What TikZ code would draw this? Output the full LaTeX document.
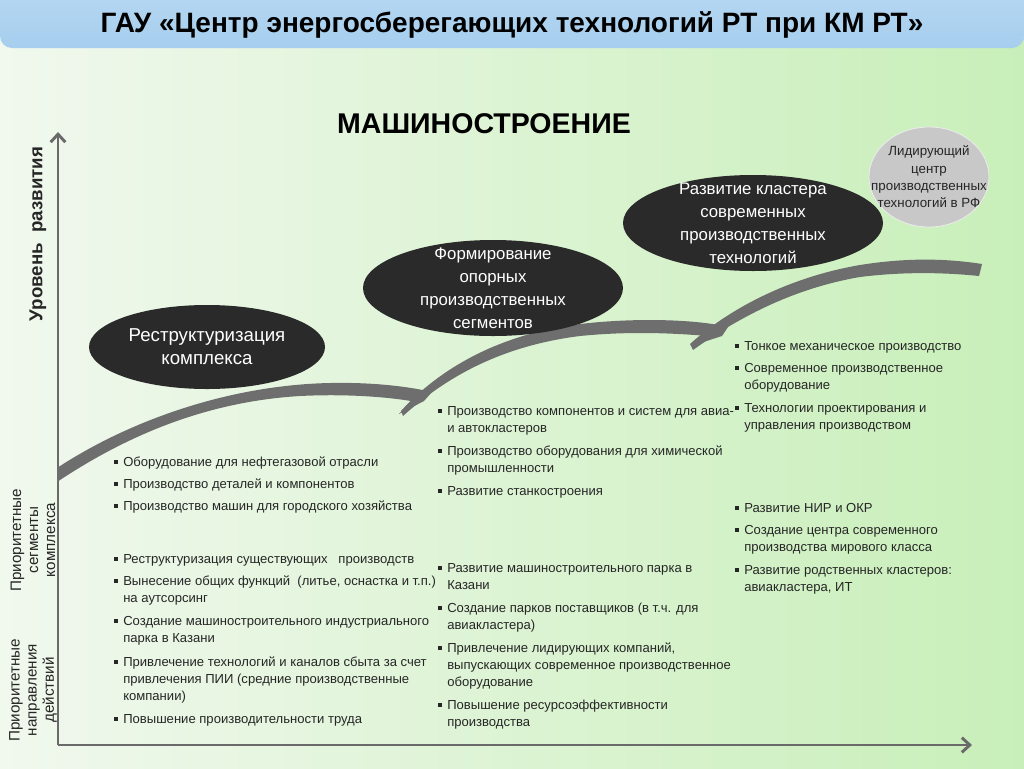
\documentclass[tikz,border=0pt]{standalone}
\usepackage{fontspec}
\setmainfont{Liberation Sans}
\usetikzlibrary{arrows.meta,shapes.geometric}
\definecolor{bgL}{HTML}{F1F8EE}
\definecolor{bgR}{HTML}{C8EFB9}
\definecolor{hdr}{HTML}{A6CEEE}
\definecolor{hdrT}{HTML}{B6D8F2}
\definecolor{ellc}{HTML}{2A2A2A}
\definecolor{swc}{HTML}{6E6E6E}
\definecolor{axc}{HTML}{6A6A6A}
\definecolor{txt}{HTML}{262626}
\definecolor{circc}{HTML}{C8C8C8}
\newcommand\bitem[4]{%
  \node[bul] (#1b) at ({#2-7},{#3-4}) {};
  \node[itm] (#1) at (#2,{#3-12.1}) {\strut #4};
}
\begin{document}
\begin{tikzpicture}[x=0.75pt,y=-0.75pt,
  itm/.style={anchor=north west,align=left,inner sep=0pt,text=txt,
    font=\fontsize{9.8}{13}\selectfont},
  bul/.style={rectangle,fill=txt,minimum size=2.8pt,inner sep=0pt},
  ell/.style={ellipse,fill=ellc,draw=none,inner sep=0pt},
  elltext/.style={align=center,text=white,font=\fontsize{12.6}{17.2}\selectfont,inner sep=0pt},
  swoosh/.style={fill=swc,draw=none},
  axis/.style={draw=axc,line width=2.2pt},
  sidelab/.style={rotate=90,align=center,text=txt,inner sep=0pt,
    font=\fontsize{11.4}{12.8}\selectfont}]
\useasboundingbox (0,0) rectangle (1024,768);
\shade[left color=bgL,right color=bgR] (0,0) rectangle (1024,768);
% header
\shade[top color=hdrT,bottom color=hdr,rounded corners=9pt] (0,-12) rectangle (1024,48);
\node[font=\bfseries\fontsize{21}{24}\selectfont,inner sep=0pt] (title) at (512,25)
  {ГАУ «Центр энергосберегающих технологий РТ при КМ РТ»};
\node[font=\bfseries\fontsize{21.4}{24}\selectfont,inner sep=0pt,text=black] (sub) at (484,124) {МАШИНОСТРОЕНИЕ};
% axes
\coordinate (O) at (58,745);
\coordinate (Ytop) at (58,132);
\coordinate (Xend) at (972,745);
\draw[axis,-{Straight Barb[length=6pt,width=11pt]}] (O) -- (Ytop);
\draw[axis,-{Straight Barb[length=6pt,width=11pt]}] (O) -- (Xend);
% side labels
\node[sidelab,font=\bfseries\fontsize{14}{16}\selectfont] (lev) at (38,234) {Уровень\ \ развития};
\node[sidelab] (seg) at (33,540) {Приоритетные\\сегменты\\комплекса};
\node[sidelab] (dir) at (33,690) {Приоритетные\\направления\\действий};
% swooshes
\fill[swoosh] (57,468) .. controls (130,420) and (230,385) .. (330,383)
  .. controls (380,382) and (415,388) .. (432,392) -- (424,401) -- (399,414) -- (411,401)
  .. controls (380,396) and (340,394) .. (300,396)
  .. controls (200,402) and (120,440) .. (57,482) -- cycle;
\fill[swoosh] (401,411) .. controls (440,368) and (500,334) .. (580,324)
  .. controls (640,317) and (700,320) .. (728,327) -- (722,336) -- (694,345) -- (708,336)
  .. controls (660,332) and (620,332) .. (580,336)
  .. controls (500,346) and (445,378) .. (403,416) -- cycle;
\fill[swoosh] (690,344) .. controls (730,308) and (790,277) .. (860,265)
  .. controls (910,257) and (950,259) .. (982,264) -- (979,276)
  .. controls (940,272) and (900,272) .. (860,277)
  .. controls (790,289) and (735,320) .. (693,350) -- cycle;
% ellipses
\node[ell,minimum width=177pt,minimum height=63pt] (e1) at (207,347) {};
\node[elltext,font=\fontsize{14}{17.2}\selectfont] (t1) at (e1) {Реструктуризация\\комплекса};
\node[ell,minimum width=195pt,minimum height=72pt] (e2) at (493,288) {};
\node[elltext] (t2) at (e2) {Формирование\\опорных\\производственных\\сегментов};
\node[ell,minimum width=195pt,minimum height=72pt] (e3) at (753,223) {};
\node[elltext] (t3) at (e3) {Развитие кластера\\современных\\производственных\\технологий};
\node[ellipse,fill=circc,draw=white!85!gray,line width=0.6pt,minimum width=90pt,minimum height=75pt,inner sep=0pt] (e4) at (929,177) {};
\node[align=center,inner sep=0pt,text=txt,font=\fontsize{10}{13}\selectfont] (t4) at (e4) {Лидирующий\\центр\\производственных\\технологий в РФ};
% column 1
\bitem{a1}{123}{466}{Оборудование для нефтегазовой отрасли}
\bitem{a2}{123}{488}{Производство деталей и компонентов}
\bitem{a3}{123}{510}{Производство машин для городского хозяйства}
\bitem{a4}{123}{563}{Реструктуризация существующих \ \ производств}
\bitem{a5}{123}{585}{Вынесение общих функций \ (литье, оснастка и т.п.)\\на аутсорсинг}
\bitem{a6}{123}{625}{Создание машиностроительного индустриального\\парка в Казани}
\bitem{a7}{123}{666}{Привлечение технологий и каналов сбыта за счет\\привлечения ПИИ (средние производственные\\компании)}
\bitem{a8}{123}{723}{Повышение производительности труда}
% column 2
\bitem{b1}{447}{415}{Производство компонентов и систем для авиа-\\и автокластеров}
\bitem{b2}{447}{455}{Производство оборудования для химической\\промышленности}
\bitem{b3}{447}{495}{Развитие станкостроения}
\bitem{b4}{447}{572}{Развитие машиностроительного парка в\\Казани}
\bitem{b5}{447}{612}{Создание парков поставщиков (в т.ч. для\\авиакластера)}
\bitem{b6}{447}{652}{Привлечение лидирующих компаний,\\выпускающих современное производственное\\оборудование}
\bitem{b7}{447}{709}{Повышение ресурсоэффективности\\производства}
% column 3
\bitem{c1}{744}{350}{Тонкое механическое производство}
\bitem{c2}{744}{372}{Современное производственное\\оборудование}
\bitem{c3}{744}{412}{Технологии проектирования и\\управления производством}
\bitem{c4}{744}{512}{Развитие НИР и ОКР}
\bitem{c5}{744}{534}{Создание центра современного\\производства мирового класса}
\bitem{c6}{744}{574}{Развитие родственных кластеров:\\авиакластера, ИТ}
\end{tikzpicture}
\end{document}
